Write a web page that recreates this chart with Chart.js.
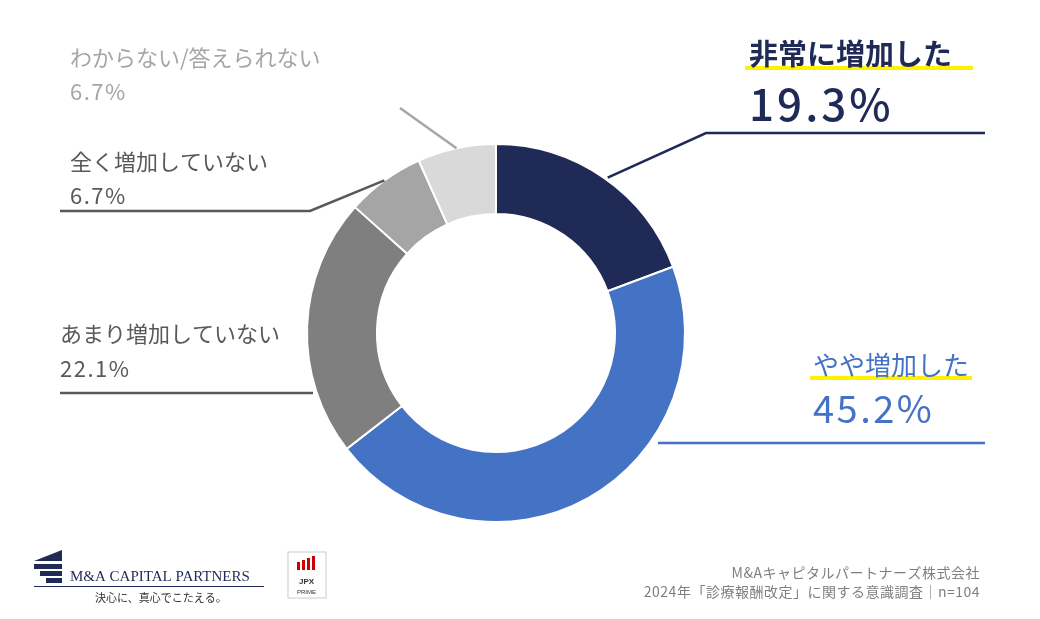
<!DOCTYPE html>
<html><head><meta charset="utf-8">
<script src="https://cdn.jsdelivr.net/npm/chart.js@4"></script>
<style>html,body{margin:0;background:#fff}#w{width:1040px;height:619px;position:relative}</style>
</head><body><div id="w"><canvas id="c"></canvas></div>
<script>
const categories = ["非常に増加した","やや増加した","あまり増加していない","全く増加していない","わからない/答えられない"];
const values = [19.3,45.2,22.1,6.7,6.7];
const colors = ["#1f2a56","#4472c4","#7f7f7f","#a5a5a5","#d9d9d9"];
const F = '"Noto Sans CJK JP","Noto Sans",sans-serif';
const labelsPlugin = {
  id:'lbl',
  afterDraw(chart){
    const ctx = chart.ctx;
    const arcs = chart.getDatasetMeta(0).data;
    const edge = (i)=>{const a=arcs[i];const m=(a.startAngle+a.endAngle)/2;return [a.x+Math.cos(m)*a.outerRadius,a.y+Math.sin(m)*a.outerRadius];};
    ctx.save();
    ctx.lineWidth=2.5;
    const line=(col,pts)=>{ctx.strokeStyle=col;ctx.beginPath();ctx.moveTo(pts[0][0],pts[0][1]);for(const p of pts.slice(1))ctx.lineTo(p[0],p[1]);ctx.stroke();};
    let e=edge(0); line('#1f2a56',[[e[0]+4,e[1]],[706,133],[985,133]]);
    line('#4472c4',[[658,443],[985,443]]);
    line('#595959',[[313,393],[60,393]]);
    e=edge(3); line('#595959',[[e[0],e[1]],[310,211],[60,211]]);
    e=edge(4); line('#a6a6a6',[[e[0],e[1]],[400,108]]);
    ctx.fillStyle='#fff200';
    ctx.fillRect(745,66,228,4); ctx.fillRect(810,376,162,4);
    ctx.textBaseline='alphabetic';
    const t=(s,x,y,sz,col,w,ls)=>{ctx.font=(w||'normal')+' '+sz+'px '+F;ctx.letterSpacing=(ls||0)+'px';ctx.fillStyle=col;ctx.fillText(s,x,y);};
    t(categories[0],749,65,29,'#1f2a56','bold'); t(values[0].toFixed(1)+'%',749,121,44,'#1f2a56','500',3);
    t(categories[1],813,375,26,'#4472c4'); t(values[1].toFixed(1)+'%',813,423,38,'#4472c4','normal',2.5);
    t(categories[2],60,342,22,'#595959'); t(values[2].toFixed(1)+'%',60,377,22,'#595959','normal',1.5);
    t(categories[3],70,170,22,'#595959'); t(values[3].toFixed(1)+'%',70,204,22,'#595959','normal',1.5);
    t(categories[4],70,66,22,'#a6a6a6'); t(values[4].toFixed(1)+'%',70,100,22,'#a6a6a6','normal',1.5);
    ctx.letterSpacing='0px';
    ctx.fillStyle='#1f2a56';
    ctx.beginPath();ctx.moveTo(34,561);ctx.lineTo(62,550);ctx.lineTo(62,561);ctx.fill();
    ctx.fillRect(34,564,28,5);ctx.fillRect(40,571,22,5);ctx.fillRect(46,578,16,5);
    ctx.font='15px "Liberation Serif",serif';ctx.fillText('M&A CAPITAL PARTNERS',70,581);
    ctx.fillRect(34,586,230,1);
    ctx.font='11px '+F;ctx.fillStyle='#333';ctx.fillText('決心に、真心でこたえる。',95,602);
    ctx.strokeStyle='#ccc';ctx.lineWidth=1;ctx.strokeRect(288,552,38,46);
    ctx.fillStyle='#c00';for(let i=0;i<4;i++)ctx.fillRect(297+i*5,556+(3-i)*2,3,14-(3-i)*2);
    ctx.fillStyle='#333';ctx.font='bold 8px sans-serif';ctx.fillText('JPX',299,584);ctx.font='6px sans-serif';ctx.fillText('PRIME',297,594);
    ctx.fillStyle='#7f7f7f';ctx.font='14px '+F;ctx.textAlign='right';ctx.letterSpacing='0.5px';
    ctx.fillText('M&Aキャピタルパートナーズ株式会社',980,578);
    ctx.fillText('2024年「診療報酬改定」に関する意識調査｜n=104',980,597);
    ctx.restore();
  }
};
new Chart(document.getElementById('c'),{
  type:'doughnut',
  data:{labels:categories,datasets:[{data:values,backgroundColor:colors,borderColor:'#fff',borderWidth:2}]},
  options:{responsive:true,maintainAspectRatio:false,animation:false,cutout:'63%',
    layout:{padding:{top:143,bottom:96,left:306,right:354}},
    plugins:{legend:{display:false},tooltip:{enabled:false}}},
  plugins:[labelsPlugin]
});
</script></body></html>
